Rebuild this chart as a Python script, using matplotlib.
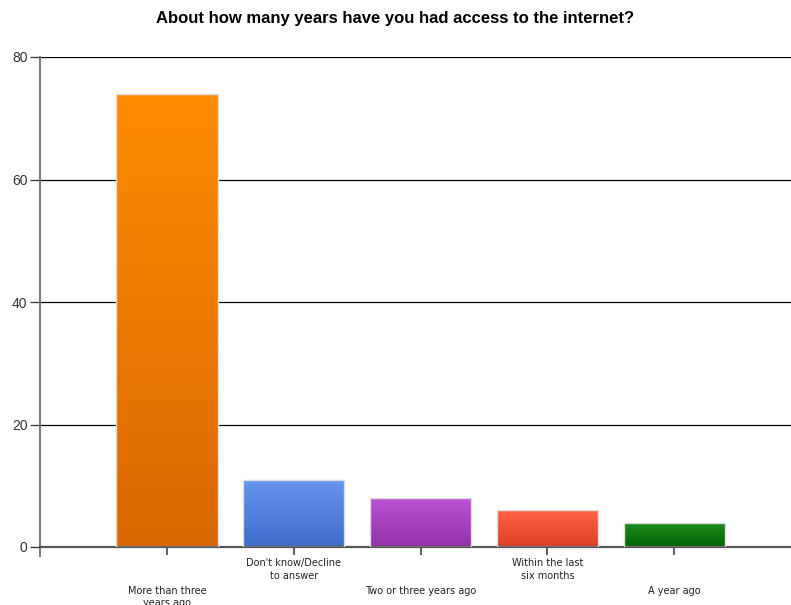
import numpy as np
import matplotlib.pyplot as plt
from matplotlib.colors import LinearSegmentedColormap

# Survey answers and counts
categories = ["More than three\nyears ago", "Don't know/Decline\nto answer",
              "Two or three years ago", "Within the last\nsix months", "A year ago"]
counts = [74, 11, 8, 6, 4]

# Gradient colours for each bar (top, bottom)
top_colors = ["#ff8c00", "#6797ee", "#bb55d4", "#ff6448", "#228b22"]
bottom_colors = ["#d96800", "#3b6cc8", "#9230a9", "#dc4024", "#006400"]

fig = plt.figure(figsize=(7.91, 6.05), dpi=100)
ax = fig.add_axes([40 / 791, 58 / 605, 751 / 791, 490 / 605])

x = np.arange(len(categories))
width = 0.8
bars = ax.bar(x, counts, width=width, color="none", edgecolor="#dddddd",
              linewidth=1.0, zorder=3)

# Fill each bar with a vertical gradient
grad = np.linspace(0, 1, 256).reshape(-1, 1)
for bar, c_top, c_bot in zip(bars, top_colors, bottom_colors):
    cmap = LinearSegmentedColormap.from_list("g", [c_bot, c_top])
    bx, bw, bh = bar.get_x(), bar.get_width(), bar.get_height()
    im = ax.imshow(grad, cmap=cmap, origin="lower", aspect="auto",
                   extent=[bx, bx + bw, 0, bh], zorder=2)
    im.set_clip_path(bar)

ax.set_xlim(-1, 4.92)
ax.set_ylim(0, 80)

# Horizontal gridlines
ax.set_yticks([0, 20, 40, 60, 80])
ax.yaxis.grid(True, color="black", linewidth=0.9, zorder=1)
ax.set_axisbelow(True)
ax.tick_params(axis="y", length=7, width=0.9, color="#333333",
               labelsize=10, labelcolor="#333333", pad=2)
for lbl in ax.get_yticklabels():
    lbl.set_family("Liberation Sans")

# Staggered category labels: upper row as major ticks, lower row as minor ticks
ax.set_xticks(x[1::2])
ax.set_xticklabels(categories[1::2])
ax.set_xticks(x[0::2], minor=True)
ax.set_xticklabels(categories[0::2], minor=True)
ax.tick_params(axis="x", which="major", length=6, width=1.2, color="#444444",
               labelsize=7, labelcolor="#222222", pad=2)
ax.tick_params(axis="x", which="minor", length=6, width=1.2, color="#444444",
               labelsize=7, labelcolor="#222222", pad=22)
for lbl in ax.get_xticklabels(which="both"):
    lbl.set_linespacing(1.3)

for side in ["top", "right"]:
    ax.spines[side].set_visible(False)
ax.spines["bottom"].set_color("#555555")
ax.spines["bottom"].set_linewidth(1.6)
ax.spines["left"].set_color("#777777")
ax.spines["left"].set_linewidth(1.4)
ax.spines["left"].set_bounds(-1.4, 80)

fig.suptitle("About how many years have you had access to the internet?",
             x=0.5, y=0.982, fontsize=12, fontweight="bold",
             family="Liberation Sans")

fig.savefig("out.png", dpi=100)
